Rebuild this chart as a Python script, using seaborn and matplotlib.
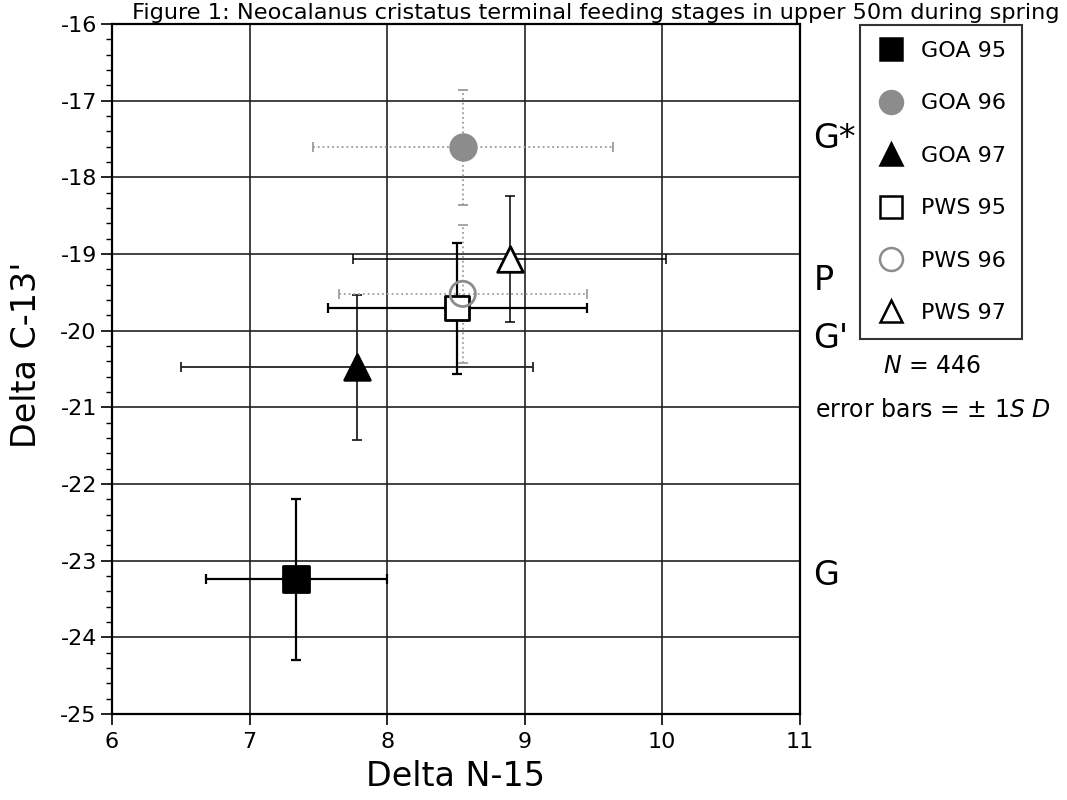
import numpy as np
import pandas as pd
import matplotlib
matplotlib.use("Agg")
import matplotlib.pyplot as plt
from matplotlib.lines import Line2D
import seaborn as sns

# Data (means +/- 1 SD)
groups = ["GOA 95", "GOA 96", "GOA 97", "PWS 95", "PWS 96", "PWS 97"]
delta_n15 = [7.34, 8.55, 7.78, 8.51, 8.55, 8.89]
delta_c13 = [-23.24, -17.61, -20.48, -19.71, -19.52, -19.07]
sd_n15 = [0.66, 1.09, 1.28, 0.94, 0.90, 1.14]
sd_c13 = [1.05, 0.75, 0.94, 0.85, 0.90, 0.82]

stage_labels = ["G*", "P", "G'", "G"]
stage_y = [-17.50, -19.35, -20.10, -23.20]

df = pd.DataFrame({"group": groups, "n15": delta_n15, "c13": delta_c13,
                   "sd_n": sd_n15, "sd_c": sd_c13})

sns.set_style("white")
plt.rcParams["font.family"] = ["DejaVu Sans"]
plt.rcParams["mathtext.fontset"] = "custom"
plt.rcParams["mathtext.rm"] = "DejaVu Sans"
plt.rcParams["mathtext.it"] = "DejaVu Sans:italic"
for key in ["text.color", "axes.labelcolor", "xtick.color", "ytick.color"]:
    plt.rcParams[key] = "black"

# marker style per group
styles = {
    "GOA 95": dict(marker="s", face="black", edge="black", s=340, ecol="black", ls="-", elw=1.6),
    "GOA 96": dict(marker="o", face="#8c8c8c", edge="#8c8c8c", s=340, ecol="#9a9a9a", ls=":", elw=1.3),
    "GOA 97": dict(marker="^", face="black", edge="black", s=340, ecol="#222222", ls="-", elw=1.3),
    "PWS 95": dict(marker="s", face="white", edge="black", s=300, ecol="black", ls="-", elw=1.6),
    "PWS 96": dict(marker="o", face="none", edge="#8c8c8c", s=330, ecol="#a0a0a0", ls=":", elw=1.3),
    "PWS 97": dict(marker="^", face="white", edge="black", s=340, ecol="black", ls="-", elw=1.1),
}

fig = plt.figure(figsize=(10.67, 8), dpi=100)
ax = fig.add_axes([0.105, 0.1075, 0.6445, 0.8625])

ax.set_xlim(6, 11)
ax.set_ylim(-25, -16)
ax.set_xticks(range(6, 12))
ax.set_yticks(range(-25, -15))
ax.set_yticks(np.arange(-25, -15.9, 0.2), minor=True)
ax.grid(True, which="major", color="#222222", linewidth=1.2)
ax.set_axisbelow(True)

for _, row in df.iterrows():
    st = styles[row["group"]]
    eb = ax.errorbar(row["n15"], row["c13"], xerr=row["sd_n"], yerr=row["sd_c"],
                     fmt="none", ecolor=st["ecol"], elinewidth=st["elw"],
                     capsize=3.5, capthick=st["elw"], zorder=3)
    for coll in eb[2]:
        coll.set_linestyle(st["ls"])
    sns.scatterplot(x=[row["n15"]], y=[row["c13"]], marker=st["marker"], s=st["s"],
                    color=st["face"], edgecolor=st["edge"], linewidth=2,
                    ax=ax, zorder=4, legend=False)

for sp in ax.spines.values():
    sp.set_color("black")
    sp.set_linewidth(1.6)

ax.tick_params(axis="both", which="major", labelsize=16, direction="out",
               length=8, width=1.2, color="black", left=True, bottom=True)
ax.tick_params(axis="x", which="major", pad=5)
ax.tick_params(axis="y", which="major", pad=3)
ax.tick_params(axis="y", which="minor", direction="out", length=4, width=1,
               color="black", left=True)
ax.set_yticklabels([str(v) for v in range(-25, -15)])

ax.set_xlabel("Delta N-15", fontsize=24)
ax.xaxis.set_label_coords(0.5, -0.066)
ax.set_ylabel("Delta C-13'", fontsize=24)
ax.yaxis.set_label_coords(-0.10, 0.52)

# stage labels to the right of the plot
for lab, yv in zip(stage_labels, stage_y):
    ax.text(1.02, yv, lab, transform=ax.get_yaxis_transform(), fontsize=24,
            ha="left", va="center", clip_on=False)

# legend
handles = []
for g in groups:
    st = styles[g]
    handles.append(Line2D([], [], linestyle="none", marker=st["marker"], markersize=16.5,
                          markerfacecolor=st["face"], markeredgecolor=st["edge"],
                          markeredgewidth=1.8, label=g))
leg = fig.legend(handles=handles, loc="upper left", bbox_to_anchor=(860 / 1067, 1 - 25 / 800),
                 frameon=True, fancybox=False, edgecolor="black", fontsize=16,
                 labelspacing=1.46, handletextpad=0.68, borderpad=0.72,
                 handlelength=1.35, borderaxespad=0)
leg.get_frame().set_linewidth(1.5)

fig.text(932 / 1067, 1 - 366 / 800, "$N$ = 446", fontsize=17, ha="center", va="center")
fig.text(933 / 1067, 1 - 410 / 800, "error bars = $\\pm$ 1$S$ $D$", fontsize=17,
         ha="center", va="center")

fig.text(0.993, 1 - 19 / 800,
         "Figure 1: Neocalanus cristatus terminal feeding stages in upper 50m during spring",
         fontsize=16.2, ha="right", va="baseline")

fig.savefig("out.png", dpi=100)
